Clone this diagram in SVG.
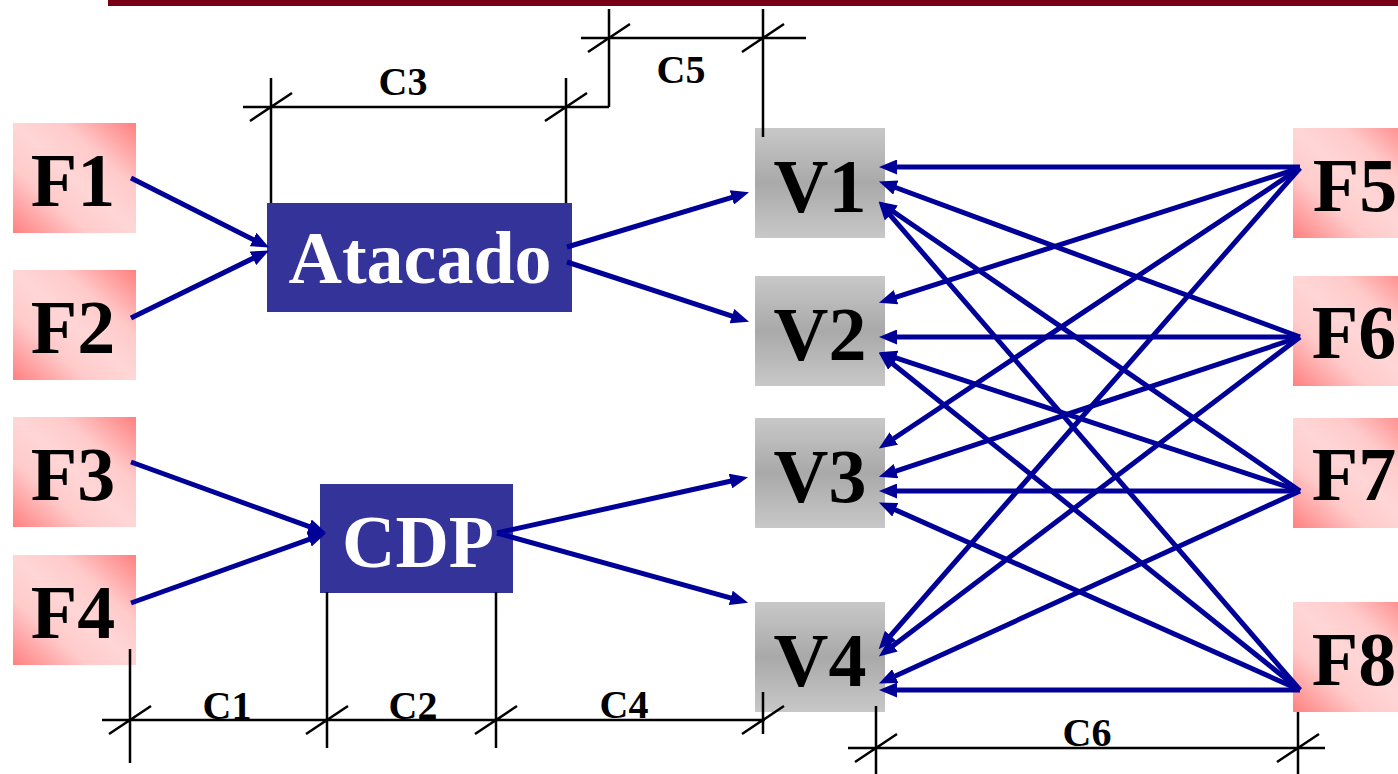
<svg xmlns="http://www.w3.org/2000/svg" width="1398" height="774" viewBox="0 0 1398 774">
<style>
.lbl{font-family:"Liberation Serif","Times New Roman",serif;font-weight:bold;text-anchor:middle}
.big{font-size:76px;fill:#000}
.box{font-size:74px;fill:#fff}
.dim{font-size:40px;fill:#000}
.dl{stroke:#000;stroke-width:2.5;fill:none}
.ar{stroke:#000099;stroke-width:5;fill:none;marker-end:url(#ah)}
.fbox{fill:url(#fg)}
.vbox{fill:url(#vg)}
.blue{fill:#333399}
</style>
<defs>
<linearGradient id="fg" x1="1" y1="0" x2="0" y2="1">
<stop offset="0" stop-color="#ff8080"/>
<stop offset="0.3" stop-color="#ffcaca"/>
<stop offset="0.5" stop-color="#ffd6d6"/>
<stop offset="0.7" stop-color="#ffcaca"/>
<stop offset="1" stop-color="#ff8080"/>
</linearGradient>
<linearGradient id="vg" x1="0" y1="0" x2="0" y2="1">
<stop offset="0" stop-color="#c8c8c8"/>
<stop offset="0.5" stop-color="#a9a9a9"/>
<stop offset="1" stop-color="#c8c8c8"/>
</linearGradient>
<marker id="ah" markerUnits="userSpaceOnUse" markerWidth="18" markerHeight="15" viewBox="0 0 18 15" refX="9" refY="7.5" orient="auto">
<path d="M0,0 L18,7.5 L0,15 z" fill="#000099"/>
</marker>
</defs>
<rect x="108" y="0" width="1290" height="6" fill="#780016"/>

<g id="F1"><rect class="fbox" x="13" y="123" width="123" height="110"/><text class="lbl big" x="73" y="206">F1</text></g>
<g id="F2"><rect class="fbox" x="13" y="270" width="123" height="110"/><text class="lbl big" x="73" y="353">F2</text></g>
<g id="F3"><rect class="fbox" x="13" y="417" width="123" height="110"/><text class="lbl big" x="73" y="500">F3</text></g>
<g id="F4"><rect class="fbox" x="13" y="555" width="123" height="110"/><text class="lbl big" x="73" y="638">F4</text></g>
<g id="F5"><rect class="fbox" x="1293" y="128" width="123" height="110"/><text class="lbl big" x="1355" y="211">F5</text></g>
<g id="F6"><rect class="fbox" x="1293" y="276" width="123" height="110"/><text class="lbl big" x="1354" y="358">F6</text></g>
<g id="F7"><rect class="fbox" x="1293" y="418" width="123" height="110"/><text class="lbl big" x="1354" y="500">F7</text></g>
<g id="F8"><rect class="fbox" x="1293" y="602" width="123" height="110"/><text class="lbl big" x="1354" y="685">F8</text></g>

<g id="V1"><rect class="vbox" x="755" y="128" width="130" height="110"/><text class="lbl big" x="820" y="212">V1</text></g>
<g id="V2"><rect class="vbox" x="755" y="276" width="130" height="110"/><text class="lbl big" x="820" y="360">V2</text></g>
<g id="V3"><rect class="vbox" x="755" y="418" width="130" height="110"/><text class="lbl big" x="820" y="502">V3</text></g>
<g id="V4"><rect class="vbox" x="755" y="602" width="130" height="110"/><text class="lbl big" x="820" y="686">V4</text></g>

<g id="Atacado"><rect class="blue" x="267" y="203" width="305" height="109"/><text class="lbl box" x="420" y="283">Atacado</text></g>
<g id="CDP"><rect class="blue" x="320" y="484" width="193" height="109"/><text class="lbl box" x="418" y="567">CDP</text></g>

<g id="dimensions">
<path class="dl" d="M243,107 H609 M271,78 V203 M566,78 V203 M609,9 V107 M250,121 L292,93 M545,121 L587,93"/>
<path class="dl" d="M581,38 H806 M763,9 V137 M588,52 L630,24 M742,52 L784,24"/>
<path class="dl" d="M102,720 H765 M130,649 V763 M327,592 V748 M496,592 V748 M763,692 V734 M109,734 L151,706 M306,734 L348,706 M475,734 L517,706 M742,734 L784,706"/>
<path class="dl" d="M848,748 H1325 M876,706 V774 M1298,712 V774 M855,762 L897,734 M1277,762 L1319,734"/>
<text class="lbl dim" x="403" y="95">C3</text>
<text class="lbl dim" x="681" y="83">C5</text>
<text class="lbl dim" x="227" y="719">C1</text>
<text class="lbl dim" x="413" y="719">C2</text>
<text class="lbl dim" x="624" y="718">C4</text>
<text class="lbl dim" x="1087" y="746">C6</text>
</g>

<g id="connectors">
<line class="ar" x1="131" y1="178" x2="261.1" y2="243.5"/>
<line class="ar" x1="131" y1="318" x2="261" y2="254.4"/>
<line class="ar" x1="567" y1="247" x2="740.4" y2="194.9"/>
<line class="ar" x1="567" y1="262" x2="740.5" y2="318.9"/>
<line class="ar" x1="131" y1="462" x2="317.6" y2="529.6"/>
<line class="ar" x1="131" y1="603" x2="317.6" y2="536.4"/>
<line class="ar" x1="497" y1="533" x2="739.2" y2="479.2"/>
<line class="ar" x1="497" y1="533" x2="739.4" y2="600.3"/>

<line class="ar" x1="1300" y1="167" x2="888" y2="167"/>
<line class="ar" x1="1300" y1="337" x2="887.4" y2="184.5"/>
<line class="ar" x1="1300" y1="491" x2="886.2" y2="206.7"/>
<line class="ar" x1="1300" y1="690" x2="884.5" y2="208.6"/>
<line class="ar" x1="1300" y1="168" x2="887.5" y2="299.9"/>
<line class="ar" x1="1300" y1="337" x2="888" y2="337"/>
<line class="ar" x1="1300" y1="491" x2="887.5" y2="355.1"/>
<line class="ar" x1="1300" y1="690" x2="885.8" y2="358.3"/>
<line class="ar" x1="1300" y1="168" x2="886.3" y2="443.5"/>
<line class="ar" x1="1300" y1="337" x2="887.5" y2="473.9"/>
<line class="ar" x1="1300" y1="491" x2="888" y2="491"/>
<line class="ar" x1="1300" y1="690" x2="887.1" y2="506.1"/>
<line class="ar" x1="1300" y1="168" x2="884.6" y2="642.5"/>
<line class="ar" x1="1300" y1="337" x2="886" y2="651"/>
<line class="ar" x1="1300" y1="491" x2="887.1" y2="679.8"/>
<line class="ar" x1="1300" y1="690" x2="888" y2="690"/>
</g>
</svg>
